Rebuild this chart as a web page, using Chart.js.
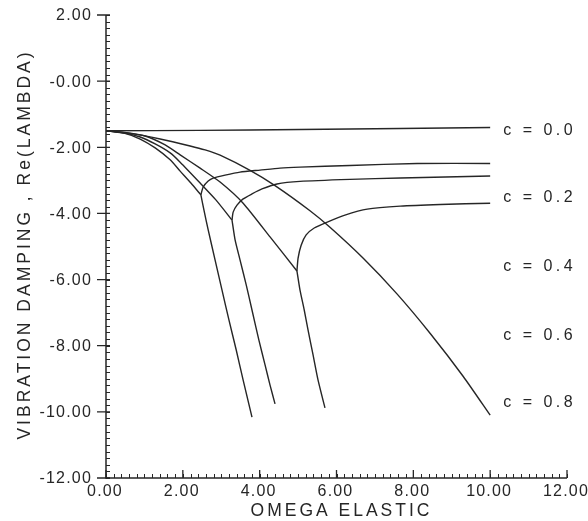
<!DOCTYPE html>
<html>
<head>
<meta charset="utf-8">
<title>Vibration damping vs omega elastic</title>
<script src="https://cdn.jsdelivr.net/npm/chart.js@4.4.1/dist/chart.umd.min.js"></script>
<style>
	html, body { margin: 0; padding: 0; background: #fff; }
	#chart { display: block; }
</style>
</head>
<body>
<canvas id="chart" width="588" height="521"></canvas>
<script>
// Axis ticks.
var xTickValues = [0, 2, 4, 6, 8, 10, 12];
var xTickLabels = ['0.00', '2.00', '4.00', '6.00', '8.00', '10.00', '12.00'];
var yTickValues = [2, 0, -2, -4, -6, -8, -10, -12];
var yTickLabels = ['2.00', '-0.00', '-2.00', '-4.00', '-6.00', '-8.00', '-10.00', '-12.00'];

// Curve labels on the right.
var curveLabels = ['c = 0.0', 'c = 0.2', 'c = 0.4', 'c = 0.6', 'c = 0.8'];
var curveLabelY = [-1.50, -3.53, -5.62, -7.68, -9.73];

// c = 0.0, almost flat.
var c00X = [0, 2.45, 5.05, 7.66, 10.0];
var c00Y = [-1.50, -1.49, -1.46, -1.43, -1.40];

// c = 0.2, no split inside the range.
var c02X = [0, 0.63, 1.41, 2.19, 2.58, 2.97, 3.75, 4.40, 5.31, 5.83, 6.69, 7.58, 8.44, 9.30, 10.0];
var c02Y = [-1.50, -1.58, -1.75, -1.96, -2.08, -2.24, -2.70, -3.16, -3.92, -4.42, -5.35, -6.44, -7.63, -8.93, -10.10];

// c = 0.4, splits near omega = 5.
var c04X = [0, 0.49, 1.02, 1.54, 1.93, 2.45, 2.97, 3.57, 4.27, 4.97];
var c04Y = [-1.50, -1.55, -1.66, -1.93, -2.23, -2.63, -3.05, -3.69, -4.71, -5.74];
var c04LowX = [4.97, 5.05, 5.16, 5.26, 5.39, 5.52, 5.70];
var c04LowY = [-5.74, -6.32, -6.92, -7.53, -8.28, -9.04, -9.88];
var c04UpX = [4.97, 5.00, 5.08, 5.21, 5.42, 5.76, 6.22, 6.80, 7.66, 8.70, 10.0];
var c04UpY = [-5.74, -5.35, -4.96, -4.65, -4.44, -4.26, -4.05, -3.87, -3.78, -3.73, -3.69];

// c = 0.6
var c06X = [0, 0.49, 0.89, 1.28, 1.67, 1.93, 2.45, 2.86, 3.28];
var c06Y = [-1.50, -1.57, -1.69, -1.90, -2.17, -2.45, -3.08, -3.59, -4.20];
var c06LowX = [3.28, 3.36, 3.49, 3.65, 3.80, 3.98, 4.14, 4.27, 4.40];
var c06LowY = [-4.20, -4.80, -5.41, -6.16, -6.92, -7.83, -8.58, -9.19, -9.76];
var c06UpX = [3.28, 3.31, 3.41, 3.57, 3.80, 4.06, 4.45, 5.05, 6.35, 7.66, 10.0];
var c06UpY = [-4.20, -3.96, -3.75, -3.56, -3.41, -3.26, -3.11, -3.03, -2.97, -2.93, -2.87];

// c = 0.8
var c08X = [0, 0.49, 0.89, 1.28, 1.67, 1.93, 2.21, 2.47];
var c08Y = [-1.50, -1.58, -1.75, -2.02, -2.38, -2.72, -3.08, -3.44];
var c08LowX = [2.47, 2.55, 2.66, 2.84, 3.02, 3.20, 3.39, 3.57, 3.80];
var c08LowY = [-3.44, -3.90, -4.50, -5.41, -6.32, -7.22, -8.13, -9.04, -10.16];
var c08UpX = [2.47, 2.53, 2.66, 2.79, 3.10, 3.49, 4.01, 4.53, 5.05, 6.35, 8.10, 10.0];
var c08UpY = [-3.44, -3.20, -3.02, -2.93, -2.84, -2.75, -2.69, -2.63, -2.60, -2.55, -2.49, -2.49];

var INK = '#262626';

function pts(xs, ys) {
	return xs.map(function(x, i) { return { x: x, y: ys[i] }; });
}

function curve(label, xs, ys) {
	return {
		label: label,
		data: pts(xs, ys),
		showLine: true,
		borderColor: INK,
		borderWidth: 1.4,
		pointRadius: 0,
		tension: 0.2,
		fill: false
	};
}

// Axes, ticks and all text are drawn here from the chart's scales.
var plotFrame = {
	id: 'plotFrame',
	afterDraw: function(chart) {
		var ctx = chart.ctx;
		var sx = chart.scales.x;
		var sy = chart.scales.y;
		var x0 = sx.getPixelForValue(0);
		var x1 = sx.getPixelForValue(12);
		var y0 = sy.getPixelForValue(-12);
		var y1 = sy.getPixelForValue(2);

		ctx.save();
		ctx.strokeStyle = INK;
		ctx.fillStyle = INK;

		// axis lines
		ctx.lineWidth = 1.5;
		ctx.beginPath();
		ctx.moveTo(x0, y1);
		ctx.lineTo(x0, y0);
		ctx.lineTo(x1, y0);
		ctx.stroke();

		// minor ticks every 0.2
		ctx.lineWidth = 1;
		ctx.beginPath();
		for (var i = 0; i <= 60; i++) {
			var px = Math.round(sx.getPixelForValue(i * 0.2)) + 0.5;
			ctx.moveTo(px, y0);
			ctx.lineTo(px, y0 - 4);
		}
		for (var j = 0; j <= 70; j++) {
			var py = Math.round(sy.getPixelForValue(2 - j * 0.2)) + 0.5;
			ctx.moveTo(x0, py);
			ctx.lineTo(x0 + 4, py);
		}
		ctx.stroke();

		// major ticks
		ctx.lineWidth = 1.3;
		ctx.beginPath();
		xTickValues.forEach(function(v) {
			var px = sx.getPixelForValue(v);
			ctx.moveTo(px, y0);
			ctx.lineTo(px, y0 - 8);
		});
		yTickValues.forEach(function(v) {
			var py = sy.getPixelForValue(v);
			ctx.moveTo(x0 - 9, py);
			ctx.lineTo(x0 + 4, py);
		});
		ctx.stroke();

		// tick labels
		ctx.font = '16px "Liberation Sans", Arial, sans-serif';
		ctx.letterSpacing = '1.2px';
		ctx.textBaseline = 'middle';
		ctx.textAlign = 'center';
		xTickValues.forEach(function(v, k) {
			ctx.fillText(xTickLabels[k], sx.getPixelForValue(v) - 1, y0 + 14);
		});
		ctx.textAlign = 'right';
		yTickValues.forEach(function(v, k) {
			ctx.fillText(yTickLabels[k], x0 - 14, sy.getPixelForValue(v) + 1);
		});

		// curve labels
		ctx.textAlign = 'left';
		ctx.letterSpacing = '3.5px';
		curveLabels.forEach(function(t, k) {
			ctx.fillText(t, sx.getPixelForValue(10.34), sy.getPixelForValue(curveLabelY[k]));
		});

		// axis titles
		ctx.font = '17.5px "Liberation Sans", Arial, sans-serif';
		ctx.letterSpacing = '3px';
		ctx.textAlign = 'center';
		ctx.fillText('OMEGA ELASTIC', (x0 + x1) / 2 + 5, y0 + 33);

		ctx.translate(25, (y0 + y1) / 2 - 2);
		ctx.rotate(-Math.PI / 2);
		ctx.fillText('VIBRATION DAMPING , Re(LAMBDA)', 0, 0);
		ctx.restore();
	}
};

new Chart(document.getElementById('chart'), {
	type: 'scatter',
	data: {
		datasets: [
			curve('c = 0.0', c00X, c00Y),
			curve('c = 0.2', c02X, c02Y),
			curve('c = 0.4', c04X, c04Y),
			curve('c = 0.4 lower', c04LowX, c04LowY),
			curve('c = 0.4 upper', c04UpX, c04UpY),
			curve('c = 0.6', c06X, c06Y),
			curve('c = 0.6 lower', c06LowX, c06LowY),
			curve('c = 0.6 upper', c06UpX, c06UpY),
			curve('c = 0.8', c08X, c08Y),
			curve('c = 0.8 lower', c08LowX, c08LowY),
			curve('c = 0.8 upper', c08UpX, c08UpY)
		]
	},
	options: {
		responsive: false,
		devicePixelRatio: 1,
		animation: false,
		layout: {
			padding: { left: 106, right: 21, top: 15, bottom: 43 }
		},
		plugins: {
			legend: { display: false },
			tooltip: { enabled: false }
		},
		scales: {
			x: { type: 'linear', min: 0, max: 12, display: false },
			y: { type: 'linear', min: -12, max: 2, display: false }
		}
	},
	plugins: [plotFrame]
});
</script>
</body>
</html>
